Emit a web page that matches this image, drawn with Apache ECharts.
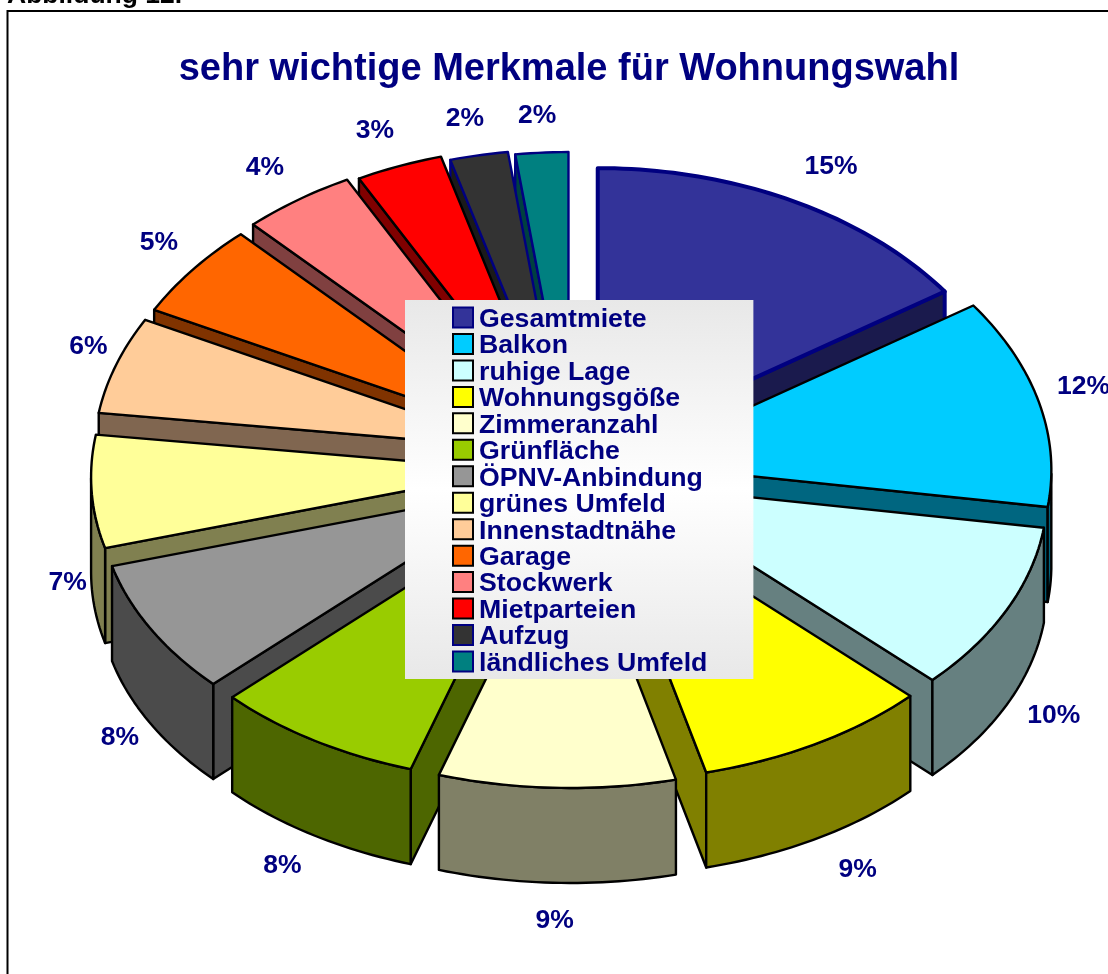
<!DOCTYPE html>
<html><head><meta charset="utf-8">
<style>html,body{margin:0;padding:0;background:#fff;overflow:hidden}#c{width:1108px;height:974px}</style>
<script src="https://cdn.jsdelivr.net/npm/echarts@6/dist/echarts.min.js"></script></head>
<body><div id="c"></div>
<script>
const categories = ['Gesamtmiete','Balkon','ruhige Lage','Wohnungsgöße','Zimmeranzahl','Grünfläche','ÖPNV-Anbindung','grünes Umfeld','Innenstadtnähe','Garage','Stockwerk','Mietparteien','Aufzug','ländliches Umfeld'];
const shares = [15.2,11.9,9.9,9,9,8,7.9,6.5,5.5,5.3,4.3,3.3,2.2,2];
const percentLabels = ['15%','12%','10%','9%','9%','8%','8%','7%','6%','5%','4%','3%','2%','2%'];
const tops = ['#333399','#00CCFF','#CCFFFF','#FFFF00','#FFFFCC','#99CC00','#969696','#FFFF99','#FFCC99','#FF6600','#FF8080','#FF0000','#333333','#008080'];
const walls = ['#1A1A4D','#006680','#668080','#808000','#808066','#4D6600','#4B4B4B','#808050','#806650','#803300','#804040','#800000','#1A1A1A','#004040'];
const outlines = ['#000080','#000','#000','#000','#000','#000','#000','#000','#000','#000','#000','#000','#000080','#000080'];
const outlineW = [4,2.4,2.4,2.4,2.4,2.4,2.4,2.4,2.4,2.4,2.4,2.4,2.4,2.4];

// projection of the tilted pie
const CX=572, CY=470, RX=425, RY=281, EX=56, EY=37, DEPTH=95, PERSP=7;
const LX_LEFT=505, LX_RIGHT=524, LXB=50, LY=355, LDEPTH=96;
const sliceDrop=[12,2,-2,-2,0,0,0,-2,-10,-9,-11,-8,-3,0];
const total = shares.reduce((a,b)=>a+b,0);
const starts = []; shares.reduce((a,v,i)=>(starts[i]=a,a+v),0);
const TAU = Math.PI*2;

function renderSlice(params, api){
  const share=api.value(0), startShare=api.value(1), i=params.seriesIndex;
  const a0=startShare/total*TAU, a1=(startShare+share)/total*TAU, m=(a0+a1)/2;
  const drop=sliceDrop[i];
  const ox=CX+EX*Math.sin(m), oy=CY-EY*Math.cos(m)+drop;
  const P=(a,d)=>[ox+RX*Math.sin(a), oy-RY*Math.cos(a)+PERSP*Math.sin(a)*Math.sin(a)+(d||0)];
  const arc=[], n=Math.max(6,Math.ceil((a1-a0)/0.02));
  for(let k=0;k<=n;k++) arc.push(a0+(a1-a0)*k/n);
  const fill=api.style().fill;
  const lw=outlineW[i], lc=outlines[i], wall=walls[i];
  const kids=[];
  const poly=(pts,color)=>kids.push({type:'polygon',shape:{points:pts},style:{fill:color,stroke:lc,lineWidth:lw,lineJoin:'round'}});
  const O=[ox,oy], Od=[ox,oy+DEPTH];
  if(Math.sin(a0)<0) poly([O,P(a0),P(a0,DEPTH),Od],wall);
  if(Math.sin(a1)>0) poly([O,P(a1),P(a1,DEPTH),Od],wall);
  const front=arc.filter(a=>Math.cos(a)<0);
  if(front.length>1){
    poly(front.map(a=>P(a)).concat(front.slice().reverse().map(a=>P(a,DEPTH))),wall);
  }
  poly([O].concat(arc.map(a=>P(a))),fill);
  const below=Math.cos(m)<0;
  const c2=Math.cos(m)*Math.cos(m);
  const lx=(Math.sin(m)<0?LX_LEFT:LX_RIGHT)+LXB*c2;
  kids.push({type:'text',style:{
    text:percentLabels[i],x:CX+lx*Math.sin(m),y:CY-LY*Math.cos(m)+(below?LDEPTH:0)+drop,
    fill:'#000080',font:'bold 26.5px "Liberation Sans", Arial, sans-serif',align:'center',verticalAlign:'middle'}});
  return {type:'group',children:kids};
}
const mids = shares.map((v,i)=>Math.cos((starts[i]+v/2)/total*TAU));
const order = mids.map((c,i)=>[c,i]).sort((a,b)=>b[0]-a[0]).map(x=>x[1]);

const series = categories.map((name,i)=>({
  type:'custom',name,coordinateSystem:'none',animation:false,silent:true,
  z:2+order.indexOf(i),
  itemStyle:{color:tops[i],borderColor:outlines[i],borderWidth:i===0?5:3},
  renderItem:renderSlice,
  data:[[shares[i],starts[i]]]
}));

const chart=echarts.init(document.getElementById('c'));
chart.setOption({
  animation:false,
  backgroundColor:'#fff',
  title:[
    {text:'sehr wichtige Merkmale für Wohnungswahl',left:564,top:65,textAlign:'center',textVerticalAlign:'middle',
     textStyle:{color:'#000080',fontFamily:'"Liberation Sans"',fontWeight:'bold',fontSize:38}},
    {text:'Abbildung 12.',left:7,top:-18,padding:0,textStyle:{color:'#000',fontFamily:'"Liberation Sans"',fontWeight:'bold',fontSize:26.5}}
  ],
  legend:{
    left:405,top:300,orient:'vertical',z:100,
    padding:[6,46,2,47],itemWidth:20,itemHeight:20,itemGap:-0.54,icon:'rect',
    selectedMode:false,
    backgroundColor:{type:'linear',x:0,y:0,x2:0,y2:1,colorStops:[{offset:0,color:'#E8E8E8'},{offset:.5,color:'#FFFFFF'},{offset:1,color:'#E8E8E8'}]},
    formatter:'{t|{name}}',
    textStyle:{color:'#000080',fontFamily:'"Liberation Sans"',fontWeight:'bold',fontSize:26.7,
      rich:{t:{color:'#000080',fontFamily:'"Liberation Sans"',fontWeight:'bold',fontSize:26.7,padding:[4,0,0,1]}}},
    data:categories
  },
  graphic:[{type:'polyline',z:200,silent:true,shape:{points:[[7.5,974],[7.5,11],[1108,11]]},style:{stroke:'#000',lineWidth:2,fill:null}}],
  series
});
</script></body></html>
